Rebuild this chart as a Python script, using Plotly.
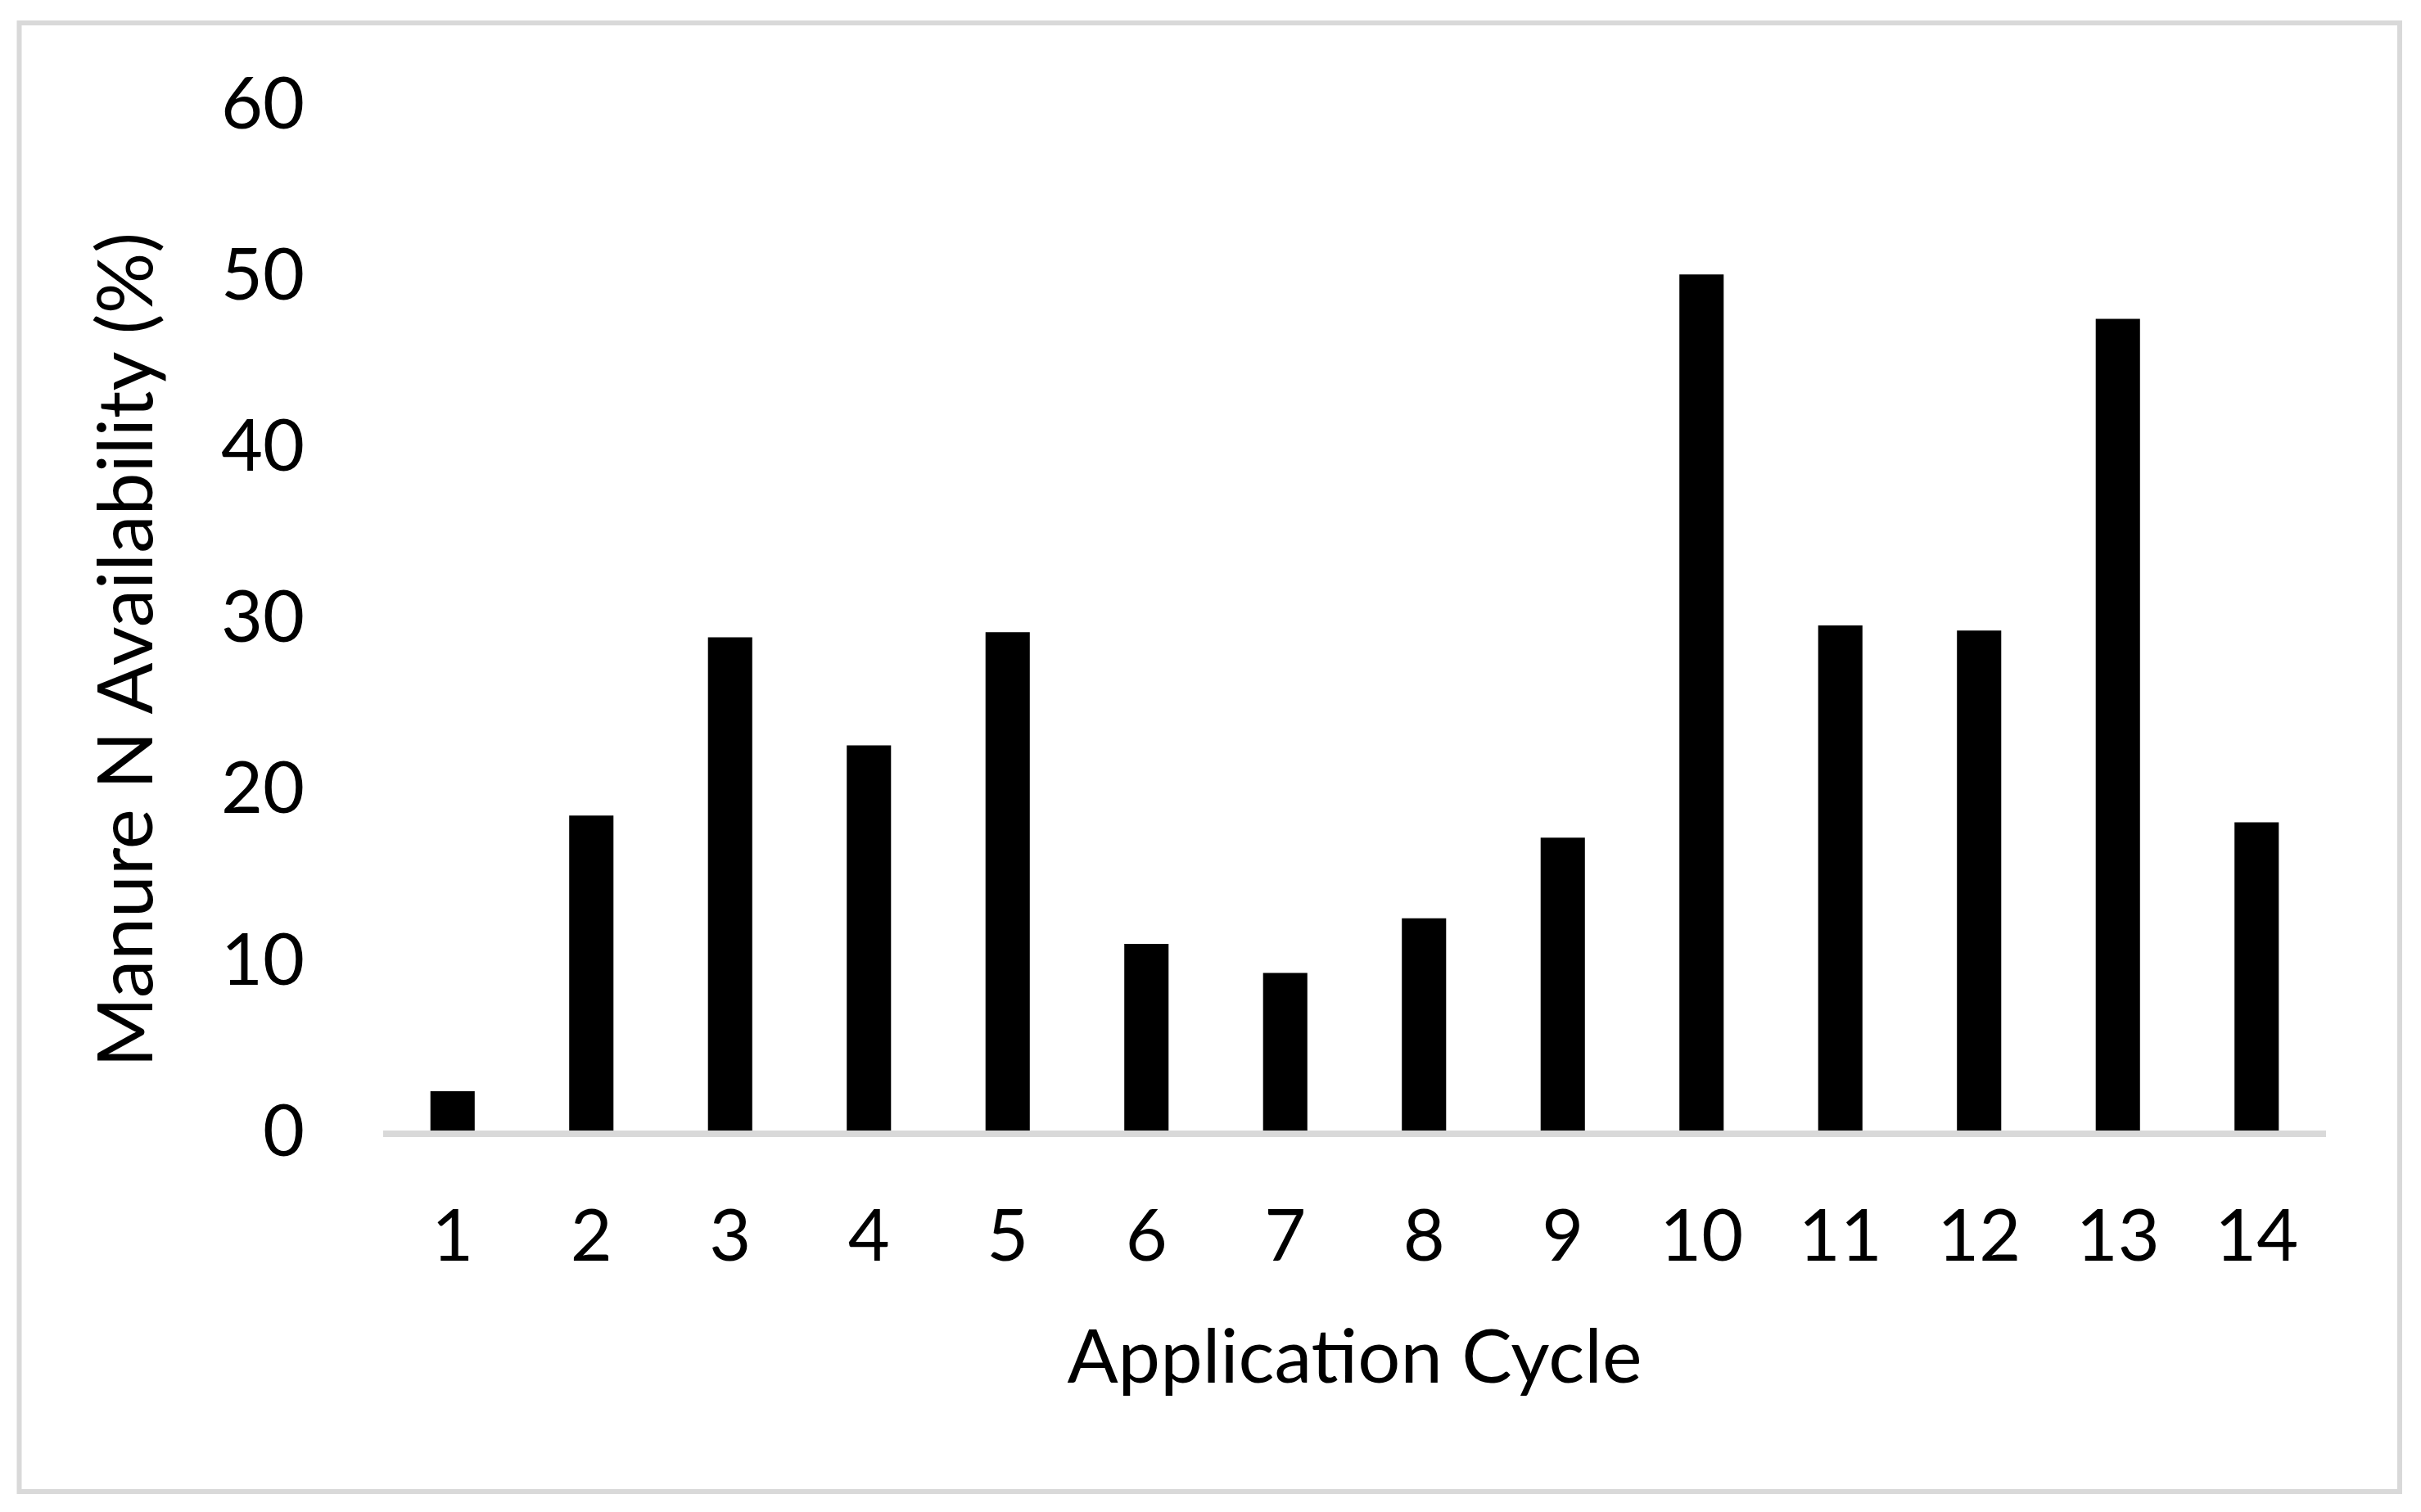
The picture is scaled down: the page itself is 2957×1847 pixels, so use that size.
import plotly.graph_objects as go

# Data
cycles = [str(i) for i in range(1, 15)]
availability = [2.3, 18.4, 28.8, 22.5, 29.1, 10.9, 9.2, 12.4, 17.1, 50.0, 29.5, 29.2, 47.4, 18.0]
y_ticks = [0, 10, 20, 30, 40, 50, 60]

FONT = "Lato"
W, H = 2957, 1847
# the page puts the figure 8px in from the top-left corner, so margins are shifted by that
L, R, T, B = 460, 124, 118, 474

fig = go.Figure()
fig.add_trace(go.Bar(x=cycles, y=availability, marker=dict(color="black", line=dict(width=0))))

pw, ph = W - L - R, H - T - B


def px_x(v):
    return (v - L) / pw


def px_y(v):
    return (H - B - v) / ph


fig.update_layout(
    width=W, height=H,
    margin=dict(l=L, r=R, t=T, b=B),
    paper_bgcolor="white", plot_bgcolor="white",
    bargap=0.681,
    showlegend=False,
    font=dict(family=FONT, color="black", size=88),
    xaxis=dict(
        type="category",
        showline=True, linecolor="#d9d9d9", linewidth=8,
        showgrid=False, zeroline=False,
        ticks="", ticklabelstandoff=45,
        tickfont=dict(size=88),
        title=dict(text="Application Cycle", font=dict(size=92), standoff=70),
    ),
    yaxis=dict(
        range=[0, 60], tickvals=y_ticks,
        showline=False, showgrid=False, zeroline=False,
        ticks="", ticklabelstandoff=95,
        tickfont=dict(size=88),
    ),
    annotations=[dict(
        text="Manure N Availability (%)", textangle=-90, showarrow=False,
        xref="paper", yref="paper", x=px_x(142), y=px_y(786),
        xanchor="center", yanchor="middle", font=dict(size=93),
    )],
    shapes=[dict(
        type="rect", xref="paper", yref="paper", layer="below",
        x0=px_x(15.5), x1=px_x(2923), y0=px_y(1814), y1=px_y(20),
        line=dict(color="#d9d9d9", width=6), fillcolor="rgba(0,0,0,0)",
    )],
)

fig.write_html("out.html")
